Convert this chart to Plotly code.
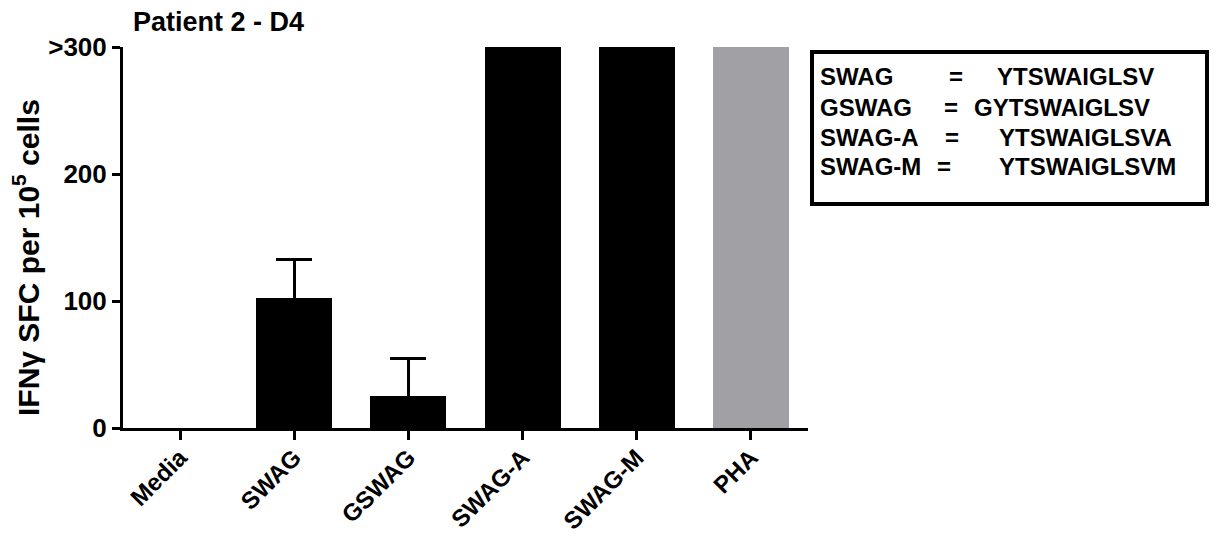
import plotly.graph_objects as go

# Stimulation conditions and IFN-gamma ELISpot responses
categories = ["Media", "SWAG", "GSWAG", "SWAG-A", "SWAG-M", "PHA"]
sfc_values = [0, 102, 25, 300, 300, 300]
sfc_error_up = [0, 31, 30, 0, 0, 0]
bar_colors = ["#000000", "#000000", "#000000", "#000000", "#000000", "#a1a0a5"]

# y-axis ticks (values above 300 are capped)
y_tickvals = [0, 100, 200, 300]
y_ticktext = ["0", "100", "200", ">300"]

# Peptide key
peptide_names = ["SWAG", "GSWAG", "SWAG-A", "SWAG-M"]
peptide_seqs = ["YTSWAIGLSV", "GYTSWAIGLSV", "YTSWAIGLSVA", "YTSWAIGLSVM"]

W, H = 1216, 538
L, R, T, B = 123, 408, 47, 110
PW, PH = W - L - R, H - T - B

def px_x(px):
    return (px - L) / PW

def px_y(py):
    return (H - B - py) / PH

FONT = "Liberation Sans, Arial, sans-serif"
x_pos = list(range(len(categories)))

fig = go.Figure()
# all bars
fig.add_trace(go.Bar(
    x=x_pos, y=sfc_values, width=0.667,
    marker=dict(color=bar_colors, line=dict(width=0)),
    showlegend=False, hoverinfo="x+y",
))
# upper error bars only where an error was measured; the lower whisker
# end is tucked just inside the bar so only the upward whisker shows
err_idx = [i for i, e in enumerate(sfc_error_up) if e > 0]
fig.add_trace(go.Bar(
    x=[x_pos[i] for i in err_idx], y=[sfc_values[i] for i in err_idx], width=0.667,
    marker=dict(color=[bar_colors[i] for i in err_idx], line=dict(width=0)),
    error_y=dict(type="data", array=[sfc_error_up[i] for i in err_idx],
                 arrayminus=[2] * len(err_idx), symmetric=False,
                 color="#000000", thickness=3, width=18),
    showlegend=False, hoverinfo="skip",
))

fig.update_layout(
    width=W, height=H,
    margin=dict(l=L, r=R, t=T, b=B, pad=0, autoexpand=False),
    paper_bgcolor="white", plot_bgcolor="white",
    font=dict(family=FONT, color="#000000"),
    barmode="overlay", bargap=0,
)

fig.update_xaxes(
    range=[-0.5, 5.5],
    tickvals=x_pos,
    ticktext=[f"<b>{c}</b>" for c in categories],
    tickangle=-45,
    tickfont=dict(size=24, family=FONT, color="#000000"),
    showline=True, linecolor="#000000", linewidth=3,
    ticks="outside", ticklen=9, tickwidth=3, tickcolor="#000000",
    ticklabelstandoff=-6,
    showgrid=False, zeroline=False, automargin=False,
)
fig.update_yaxes(
    range=[0, 300],
    tickvals=y_tickvals,
    ticktext=[f"<b>{t}</b>" for t in y_ticktext],
    tickfont=dict(size=26, family=FONT, color="#000000"),
    showline=True, linecolor="#000000", linewidth=3,
    ticks="outside", ticklen=8, tickwidth=3, tickcolor="#000000",
    showgrid=False, zeroline=False, automargin=False,
)

annotations = [
    dict(text="<b>Patient 2 - D4</b>", xref="paper", yref="paper",
         x=px_x(131), y=px_y(22), xanchor="left", yanchor="middle",
         showarrow=False, font=dict(size=27, family=FONT, color="#000000")),
    dict(text="<b>IFNγ SFC per 10<sup>5</sup> cells</b>", xref="paper", yref="paper",
         x=px_x(26), y=px_y(258), xanchor="center", yanchor="middle",
         textangle=-90, showarrow=False,
         font=dict(size=30, family=FONT, color="#000000")),
]

row_y = [76, 107, 137, 166]
eq_x = [947, 942, 943, 935]
seq_x = [995, 972, 997, 997]
for i, (name, seq) in enumerate(zip(peptide_names, peptide_seqs)):
    for txt, xpos in ((name, 818), ("=", eq_x[i]), (seq, seq_x[i])):
        annotations.append(dict(
            text=f"<b>{txt}</b>", xref="paper", yref="paper",
            x=px_x(xpos), y=px_y(row_y[i]), xanchor="left", yanchor="middle",
            showarrow=False, font=dict(size=24, family=FONT, color="#000000")))

fig.update_layout(
    annotations=annotations,
    shapes=[dict(type="rect", xref="paper", yref="paper",
                 x0=px_x(812), x1=px_x(1207), y0=px_y(204), y1=px_y(52),
                 line=dict(color="#000000", width=4), fillcolor="rgba(0,0,0,0)")],
)

fig.write_html("out.html")
